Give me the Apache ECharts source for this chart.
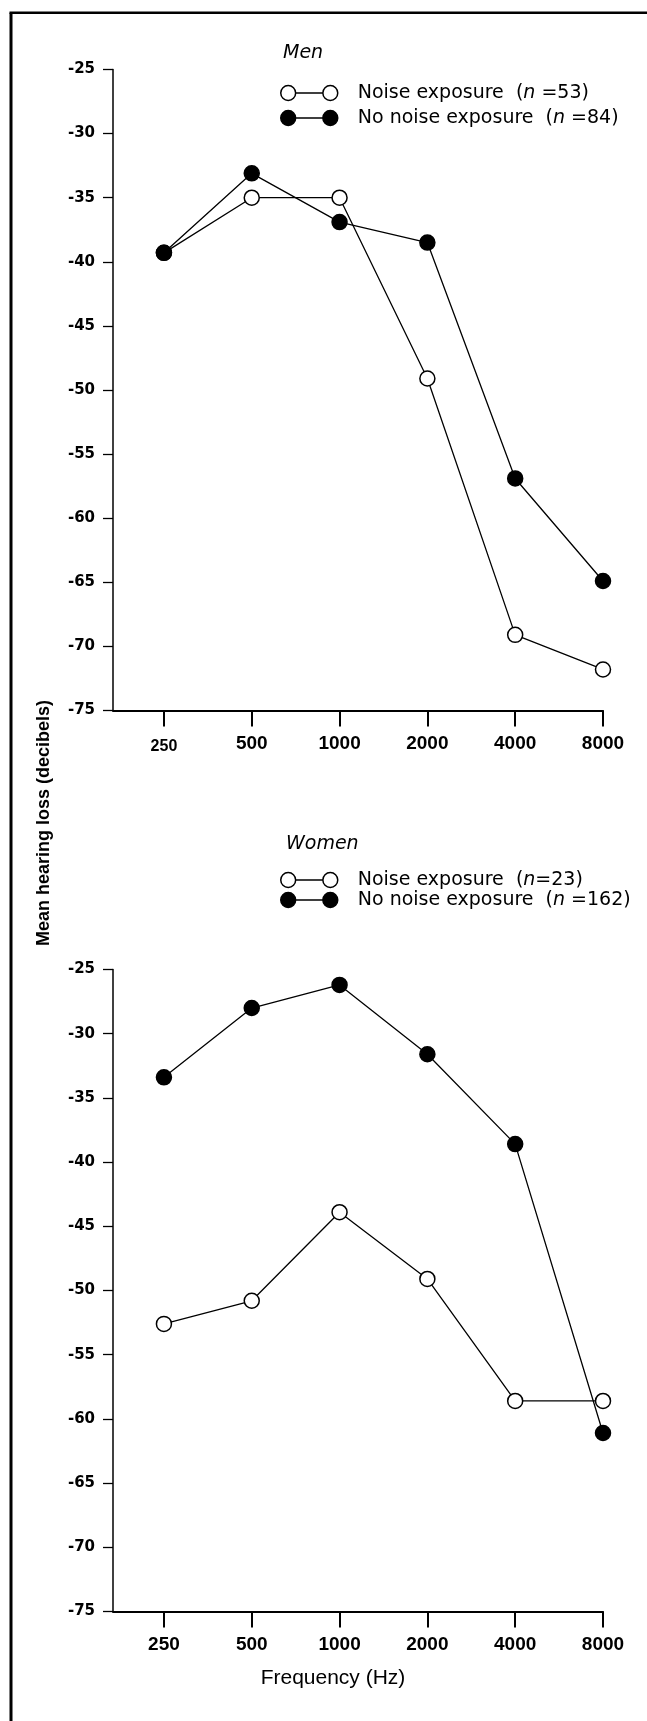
<!DOCTYPE html>
<html><head><meta charset="utf-8">
<script src="https://cdn.jsdelivr.net/npm/echarts@6/dist/echarts.min.js"></script>
<style>html,body{margin:0;padding:0;background:#fff}#c{width:647px;height:1721px}</style>
</head><body><div id="c"></div>
<script>
// ---- data ----
const freqLabels = ['250', '500', '1000', '2000', '4000', '8000'];
const freqIndex = [0, 1, 2, 3, 4, 5];
const yMin = -75, yMax = -25, yStep = 5;

const menNoiseName = 'Noise exposure  (n =53)';
const menNoNoiseName = 'No noise exposure  (n =84)';
const womenNoiseName = 'Noise exposure  (n=23)';
const womenNoNoiseName = 'No noise exposure  (n =162)';

const menNoise = [-39.3, -35.0, -35.0, -49.1, -69.1, -71.8];
const menNoNoise = [-39.3, -33.1, -36.9, -38.5, -56.9, -64.9];
const womenNoise = [-52.6, -50.8, -43.9, -49.1, -58.6, -58.6];
const womenNoNoise = [-33.4, -28.0, -26.2, -31.6, -38.6, -61.1];

// ---- chart ----
const chart = echarts.init(document.getElementById('c'), null, { renderer: 'canvas' });
const BLACK = '#000';
const LEG_ICON = 'path://M0.75,7.5a7.25,7.25 0 1,0 14.5,0a7.25,7.25 0 1,0 -14.5,0ZM41.75,7.5a7.25,7.25 0 1,0 14.5,0a7.25,7.25 0 1,0 -14.5,0ZM15.25,7.5L41.75,7.5';
const hollowStyle = { color: '#fff', borderColor: BLACK, borderWidth: 1.5 };
const filledStyle = { color: BLACK, borderColor: BLACK, borderWidth: 1.5 };

const legendText = { fontFamily: 'DejaVu Sans', fontSize: 19, color: BLACK, lineHeight: 20 };
function legendFormatter(name) {
  const m = name.match(/^(.*\()(n\s*)(=.*)$/);
  if (!m) return '{t0|' + name + '}';
  return '{t0|' + m[1] + '}{i|' + m[2] + '}{t|' + m[3] + '}';
}
function makeLegend(names, top, gap) {
  return {
    orient: 'vertical', left: 280, top: top, padding: 0, itemGap: gap,
    itemWidth: 57, itemHeight: 15, selectedMode: false,
    data: [
      { name: names[0], icon: LEG_ICON, itemStyle: hollowStyle },
      { name: names[1], icon: LEG_ICON, itemStyle: filledStyle }
    ],
    formatter: legendFormatter,
    textStyle: Object.assign({}, legendText, {
      rich: {
        t0: Object.assign({}, legendText, { padding: [0, 0, 0, 15] }),
        t: Object.assign({}, legendText),
        i: Object.assign({}, legendText, { fontStyle: 'italic' })
      }
    })
  };
}

function makeX(grid, smallFirst, withName) {
  const ax = {
    type: 'value', gridIndex: grid, min: -0.58, max: 5,
    axisLine: { show: true, onZero: false, lineStyle: { color: BLACK, width: 2 } },
    axisTick: { show: true, customValues: freqIndex, length: 16, lineStyle: { color: BLACK, width: 2 } },
    axisLabel: {
      customValues: freqIndex, margin: 24, color: BLACK,
      fontFamily: 'Liberation Sans', fontWeight: 'bold', fontSize: 19,
      formatter: function (v) {
        const lab = freqLabels[Math.round(v)];
        if (lab === undefined) return '';
        return (smallFirst && Math.round(v) === 0) ? '{s|' + lab + '}' : lab;
      },
      rich: { s: { fontFamily: 'Liberation Sans', fontWeight: 'bold', fontSize: 16, color: BLACK, padding: [4, 0, 0, 0] } }
    },
    splitLine: { show: false }
  };
  if (withName) {
    ax.name = 'Frequency (Hz)';
    ax.nameLocation = 'middle';
    ax.nameGap = 56;
    ax.nameTextStyle = { fontFamily: 'Liberation Sans', fontSize: 21, color: BLACK, padding: [0, 50, 0, 0] };
  }
  return ax;
}
function makeY(grid) {
  return {
    type: 'value', gridIndex: grid, min: yMin, max: yMax, interval: yStep,
    axisLine: { show: true, onZero: false, lineStyle: { color: BLACK, width: 1.5 } },
    axisTick: { show: true, length: 10, lineStyle: { color: BLACK, width: 1.3 } },
    axisLabel: { margin: 18, color: BLACK, fontFamily: 'DejaVu Sans', fontWeight: 'bold', fontSize: 15 },
    splitLine: { show: false }
  };
}
function makeSeries(name, values, grid, filled) {
  return {
    name: name, type: 'line', xAxisIndex: grid, yAxisIndex: grid,
    data: freqIndex.map(function (i) { return [i, values[i]]; }),
    symbol: 'circle', symbolSize: 15, showAllSymbol: true,
    lineStyle: { color: BLACK, width: 1.3 },
    itemStyle: filled ? filledStyle : hollowStyle,
    emphasis: { disabled: true },
    z: filled ? 3 : 2,
    animation: false
  };
}

const titleStyle = { fontFamily: 'DejaVu Sans', fontStyle: 'italic', fontWeight: 'normal', fontSize: 19, color: BLACK };

chart.setOption({
  animation: false,
  backgroundColor: '#fff',
  title: [
    { text: 'Men', left: 283, top: 44, padding: 0, textStyle: titleStyle },
    { text: 'Women', left: 286, top: 835, padding: 0, textStyle: titleStyle }
  ],
  legend: [
    makeLegend([menNoiseName, menNoNoiseName], 83, 5),
    makeLegend([womenNoiseName, womenNoNoiseName], 870, 0)
  ],
  grid: [
    { left: 113, right: 44, top: 69.5, height: 641 },
    { left: 113, right: 44, top: 969.5, height: 642 }
  ],
  xAxis: [makeX(0, true, false), makeX(1, false, true)],
  yAxis: [makeY(0), makeY(1)],
  series: [
    makeSeries(menNoiseName, menNoise, 0, false),
    makeSeries(menNoNoiseName, menNoNoise, 0, true),
    makeSeries(womenNoiseName, womenNoise, 1, false),
    makeSeries(womenNoNoiseName, womenNoNoise, 1, true)
  ],
  graphic: [
    { type: 'line', silent: true, shape: { x1: 11, y1: 12.8, x2: 11, y2: 1721 }, style: { stroke: BLACK, lineWidth: 3 } },
    { type: 'line', silent: true, shape: { x1: 9.5, y1: 12.8, x2: 647, y2: 12.8 }, style: { stroke: BLACK, lineWidth: 2.5 } },
    { type: 'text', silent: true, x: 44, y: 823, rotation: Math.PI / 2,
      style: { text: 'Mean hearing loss (decibels)', fontFamily: 'Liberation Sans', fontWeight: 'bold', fontSize: 18,
               fill: BLACK, align: 'center', verticalAlign: 'middle' } }
  ]
});
</script></body></html>
